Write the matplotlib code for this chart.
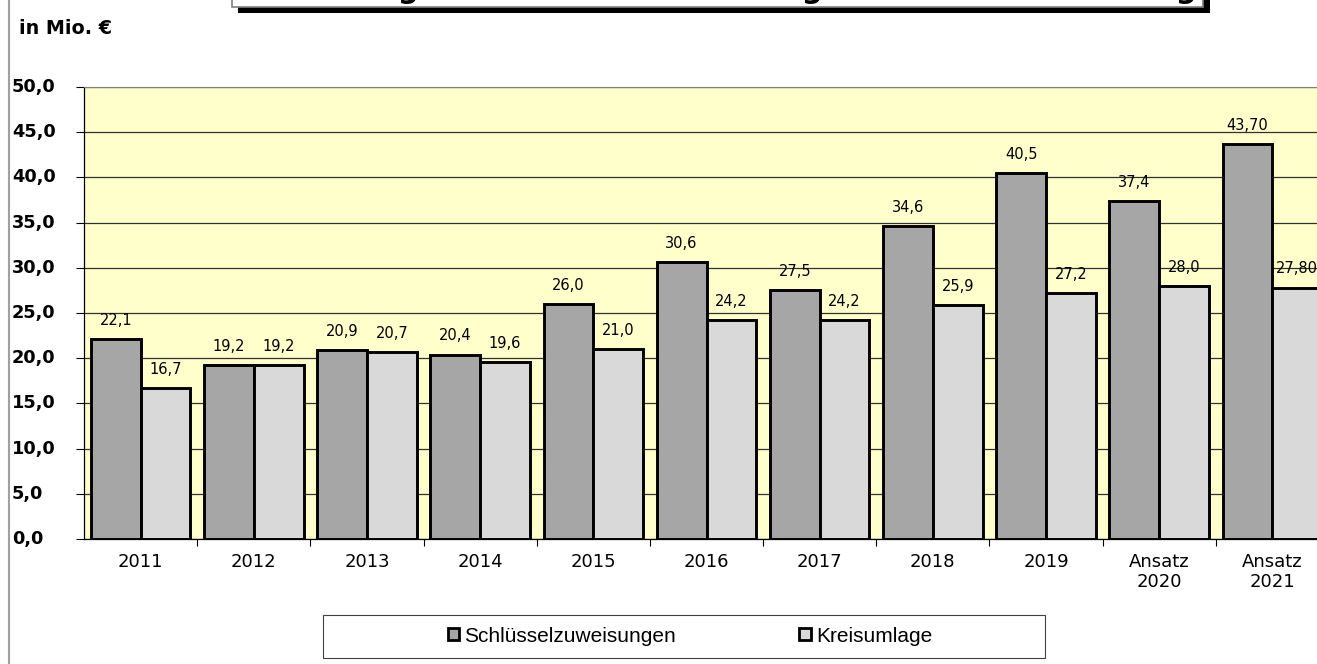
import matplotlib
matplotlib.use('Agg')
import matplotlib.pyplot as plt
from matplotlib.patches import Rectangle, Patch
from matplotlib.transforms import blended_transform_factory
import numpy as np

# data
years = ['2011', '2012', '2013', '2014', '2015', '2016', '2017', '2018', '2019',
         'Ansatz\n2020', 'Ansatz\n2021']
schluessel = [22.1, 19.2, 20.9, 20.4, 26.0, 30.6, 27.5, 34.6, 40.5, 37.4, 43.70]
kreisumlage = [16.7, 19.2, 20.7, 19.6, 21.0, 24.2, 24.2, 25.9, 27.2, 28.0, 27.80]
lab_schluessel = ['22,1', '19,2', '20,9', '20,4', '26,0', '30,6', '27,5', '34,6',
                  '40,5', '37,4', '43,70']
lab_kreis = ['16,7', '19,2', '20,7', '19,6', '21,0', '24,2', '24,2', '25,9',
             '27,2', '28,0', '27,80']
yticks = [0, 5, 10, 15, 20, 25, 30, 35, 40, 45, 50]
title = 'Entwicklung der Schlüsselzuweisungen und der Kreisumlage'

W, H = 1317, 664
fig = plt.figure(figsize=(W / 100, H / 100), dpi=100)
fig.patch.set_facecolor('white')

def px(x, y):
    return x / W, 1 - y / H

# plot area, right side runs off the picture like in the original
left, top, right, bottom = 84, 87, 1329, 539
ax = fig.add_axes([left / W, 1 - bottom / H, (right - left) / W, (bottom - top) / H])
ax.set_facecolor('#FFFFCC')

x = np.arange(len(years))
bw = 0.44
ax.bar(x - bw / 2, schluessel, bw, color='#A6A6A6', edgecolor='black', linewidth=2.1,
       label='Schlüsselzuweisungen', zorder=3)
ax.bar(x + bw / 2, kreisumlage, bw, color='#D9D9D9', edgecolor='black', linewidth=2.1,
       label='Kreisumlage', zorder=3)

for i in range(len(years)):
    ax.annotate(lab_schluessel[i], (x[i] - bw / 2, schluessel[i]), xytext=(0, 13.5),
                textcoords='offset points', ha='center', va='center', fontsize=10.5,
                family='DejaVu Sans', zorder=4)
    ax.annotate(lab_kreis[i], (x[i] + bw / 2, kreisumlage[i]), xytext=(0, 13.5),
                textcoords='offset points', ha='center', va='center', fontsize=10.5,
                family='DejaVu Sans', zorder=4)

ax.set_xlim(-0.5, len(years) - 0.5)
ax.set_ylim(0, 50)
ax.set_yticks(yticks)
ax.yaxis.grid(True, color='#303030', linewidth=0.9, zorder=0)
ax.set_axisbelow(True)

ax.set_xticks(x)
ax.set_xticklabels(years, fontsize=13, family='DejaVu Sans', linespacing=1.15)
ax.tick_params(axis='x', which='major', length=0, pad=10)
ax.set_xticks(x[:-1] + 0.5, minor=True)
ax.tick_params(axis='x', which='minor', length=5, width=0.8, direction='out')
ax.tick_params(axis='y', length=6, width=0.8, direction='out', labelleft=False)

# y labels sit flush left, as in the reference
tr = blended_transform_factory(fig.transFigure, ax.transData)
for v in yticks:
    fig.text(12 / W, v, ('%.1f' % v).replace('.', ','), transform=tr, ha='left',
             va='center', fontsize=12.8, fontweight='bold', family='DejaVu Sans')

ax.spines['right'].set_visible(False)
ax.spines['top'].set_color('#808080')
ax.spines['left'].set_linewidth(0.9)
ax.spines['bottom'].set_linewidth(0.9)

fig.text(*px(19, 29), 'in Mio. €', ha='left', va='center', fontsize=13.8,
         fontweight='bold', family='DejaVu Sans')

# outer chart frame line on the left
fig.add_artist(plt.Line2D([8.5 / W, 8.5 / W], [0, 1], color='#A0A0A0', linewidth=1.5))

# title box, mostly cut off at the top
fig.add_artist(Rectangle(px(238, 13), (1210 - 238) / W, 30 / H, facecolor='black',
                         edgecolor='none', transform=fig.transFigure))
fig.add_artist(Rectangle(px(232, 7), (1203 - 232) / W, 30 / H, facecolor='white',
                         edgecolor='#808080', linewidth=1.2, transform=fig.transFigure))
fig.text(*px(717, -2), title, ha='center', va='baseline', fontsize=21,
         fontweight='bold', family='DejaVu Sans')

# legend box drawn separately so it keeps the wide frame of the original
fig.add_artist(Rectangle(px(323, 658), (1045 - 323) / W, 43 / H, facecolor='white',
                         edgecolor='#404040', linewidth=0.8, transform=fig.transFigure))
handles = [Patch(facecolor='#A6A6A6', edgecolor='black', linewidth=2.0),
           Patch(facecolor='#D9D9D9', edgecolor='black', linewidth=2.0)]
leg = fig.legend(handles, ['Schlüsselzuweisungen', 'Kreisumlage'], ncol=2,
                 loc='center', bbox_to_anchor=px(690, 636),
                 bbox_transform=fig.transFigure, frameon=False,
                 handlelength=0.55, handleheight=0.55,
                 handletextpad=0.25, borderpad=0.3, columnspacing=5.9,
                 prop={'family': 'Liberation Sans', 'size': 15})

fig.savefig('out.png', dpi=100)
